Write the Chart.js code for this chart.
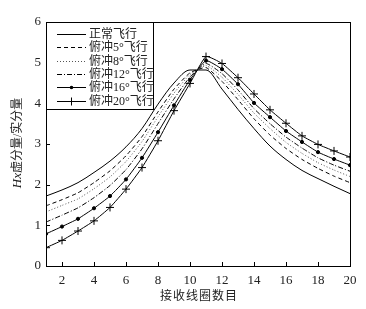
<!DOCTYPE html>
<html>
<head>
<meta charset="utf-8">
<script src="https://cdn.jsdelivr.net/npm/chart.js@4"></script>
<style>
  html, body { margin: 0; padding: 0; background: #fff; }
</style>
</head>
<body>
<canvas id="c" width="366" height="309"></canvas>
<script>
// coil numbers (x) and axis ticks
const coils = [1, 2, 3, 4, 5, 6, 7, 8, 9, 10, 11, 12, 13, 14, 15, 16, 17, 18, 19, 20];
const xTicks = [2, 4, 6, 8, 10, 12, 14, 16, 18, 20];
const yTicks = [0, 1, 2, 3, 4, 5, 6];

const names = ["正常飞行", "俯冲5°飞行", "俯冲8°飞行", "俯冲12°飞行", "俯冲16°飞行", "俯冲20°飞行"];

const normal = [1.72, 1.87, 2.05, 2.30, 2.58, 2.93, 3.38, 3.98, 4.50, 4.82, 4.82, 4.35, 3.85, 3.38, 2.95, 2.62, 2.35, 2.15, 1.96, 1.78];
const dive5  = [1.48, 1.63, 1.80, 2.05, 2.34, 2.71, 3.18, 3.79, 4.35, 4.75, 4.88, 4.54, 4.09, 3.62, 3.22, 2.89, 2.62, 2.40, 2.21, 2.05];
const dive8  = [1.33, 1.49, 1.65, 1.90, 2.19, 2.57, 3.06, 3.67, 4.25, 4.71, 4.93, 4.64, 4.22, 3.76, 3.38, 3.04, 2.77, 2.54, 2.36, 2.20];
const dive12 = [1.08, 1.25, 1.43, 1.68, 1.98, 2.37, 2.88, 3.50, 4.11, 4.65, 4.98, 4.73, 4.33, 3.87, 3.50, 3.17, 2.90, 2.66, 2.48, 2.33];
const dive16 = [0.79, 0.97, 1.16, 1.42, 1.72, 2.13, 2.66, 3.29, 3.95, 4.58, 5.05, 4.84, 4.47, 4.01, 3.66, 3.32, 3.05, 2.80, 2.63, 2.48];
const dive20 = [0.45, 0.63, 0.86, 1.11, 1.44, 1.89, 2.42, 3.08, 3.82, 4.49, 5.15, 4.98, 4.63, 4.23, 3.84, 3.51, 3.20, 2.99, 2.83, 2.68];

const series = [normal, dive5, dive8, dive12, dive16, dive20];
const styles = [
  { dash: [], color: "#000", point: false },
  { dash: [4, 3], color: "#000", point: false },
  { dash: [1, 2], color: "#555", point: false },
  { dash: [5, 2, 1, 2], color: "#000", point: false },
  { dash: [], color: "#000", point: "circle", r: 1.6 },
  { dash: [], color: "#000", point: "cross", r: 4 },
];

const serif = "'Liberation Serif', 'Noto Sans CJK SC', serif";
const cjk = "'Liberation Serif', 'Noto Sans CJK SC', sans-serif";

const datasets = series.map((vals, i) => ({
  label: names[i],
  data: coils.map((c, k) => ({ x: c, y: vals[k] })),
  borderColor: styles[i].color,
  backgroundColor: styles[i].color,
  borderWidth: 1,
  borderDash: styles[i].dash,
  tension: 0.15,
  cubicInterpolationMode: i === 0 ? "monotone" : "default",
  pointStyle: styles[i].point || "circle",
  pointRadius: styles[i].point ? styles[i].r : 0,
  pointBorderWidth: 1,
}));

// frame, inward ticks, titles and boxed legend
const decor = {
  id: "decor",
  afterDraw(chart) {
    const { ctx, chartArea: a, scales: { x, y } } = chart;
    ctx.save();
    ctx.strokeStyle = "#000";
    ctx.lineWidth = 1;
    ctx.setLineDash([]);
    ctx.strokeRect(Math.round(a.left) + 0.5, Math.round(a.top) + 0.5,
      Math.round(a.right - a.left), Math.round(a.bottom - a.top));
    ctx.beginPath();
    xTicks.forEach(v => {
      const px = Math.round(x.getPixelForValue(v)) + 0.5;
      ctx.moveTo(px, a.bottom);
      ctx.lineTo(px, a.bottom - 4);
    });
    yTicks.forEach(v => {
      const py = Math.round(y.getPixelForValue(v)) + 0.5;
      ctx.moveTo(a.left, py);
      ctx.lineTo(a.left + 4, py);
    });
    ctx.stroke();

    // axis titles
    ctx.fillStyle = "#222";
    ctx.textBaseline = "middle";
    ctx.font = "12px " + cjk;
    ctx.letterSpacing = "1px";
    ctx.textAlign = "center";
    ctx.fillText("接收线圈数目", 199, 297);

    ctx.save();
    ctx.translate(18, 143);
    ctx.rotate(-Math.PI / 2);
    ctx.letterSpacing = "0px";
    ctx.font = "italic 13px " + serif;
    const hx = "Hx";
    const rest = "虚分量/实分量";
    const w1 = ctx.measureText(hx).width;
    ctx.font = "12px " + cjk;
    const w2 = ctx.measureText(rest).width;
    let sx = -(w1 + w2) / 2;
    ctx.textAlign = "left";
    ctx.font = "italic 13px " + serif;
    ctx.fillText(hx, sx, 0);
    ctx.font = "12px " + cjk;
    ctx.fillText(rest, sx + w1, 0);
    ctx.restore();

    // legend
    const bx = a.left, by = a.top, bw = 107, bh = 87;
    ctx.fillStyle = "#fff";
    ctx.fillRect(bx + 1, by + 1, bw - 1, bh - 1);
    ctx.strokeStyle = "#000";
    ctx.strokeRect(Math.round(bx) + 0.5, Math.round(by) + 0.5, bw, bh);
    names.forEach((n, i) => {
      const ly = Math.round(by + 12 + i * 13.3) + 0.5;
      const st = styles[i];
      ctx.strokeStyle = st.color;
      ctx.setLineDash(st.dash);
      ctx.beginPath();
      ctx.moveTo(bx + 11, ly);
      ctx.lineTo(bx + 40, ly);
      ctx.stroke();
      ctx.setLineDash([]);
      const cx = bx + 25.5;
      if (st.point === "circle") {
        ctx.fillStyle = "#000";
        ctx.beginPath();
        ctx.arc(cx, ly, 1.8, 0, Math.PI * 2);
        ctx.fill();
      } else if (st.point === "cross") {
        ctx.beginPath();
        ctx.moveTo(cx, ly - 4);
        ctx.lineTo(cx, ly + 4);
        ctx.stroke();
      }
      ctx.fillStyle = "#222";
      ctx.textAlign = "left";
      ctx.font = "12px " + cjk;
      ctx.letterSpacing = "0px";
      ctx.fillText(n, bx + 43, ly);
    });
    ctx.restore();
  },
};

new Chart(document.getElementById("c"), {
  type: "line",
  data: { datasets },
  options: {
    responsive: false,
    animation: false,
    layout: { padding: { left: 0, right: 16, top: 22, bottom: 0 } },
    plugins: { legend: { display: false }, tooltip: { enabled: false } },
    scales: {
      x: {
        type: "linear",
        min: 1,
        max: 20,
        afterBuildTicks: s => { s.ticks = xTicks.map(v => ({ value: v })); },
        afterFit: s => { s.height = 43; },
        grid: { display: false, drawTicks: false },
        border: { display: false },
        ticks: { color: "#222", padding: 7, font: { family: serif, size: 13 }, maxRotation: 0 },
      },
      y: {
        min: 0,
        max: 6,
        afterBuildTicks: s => { s.ticks = yTicks.map(v => ({ value: v })); },
        afterFit: s => { s.width = 46; },
        grid: { display: false, drawTicks: false },
        border: { display: false },
        ticks: { color: "#222", padding: 5, font: { family: serif, size: 13 } },
      },
    },
  },
  plugins: [decor],
});
</script>
</body>
</html>
